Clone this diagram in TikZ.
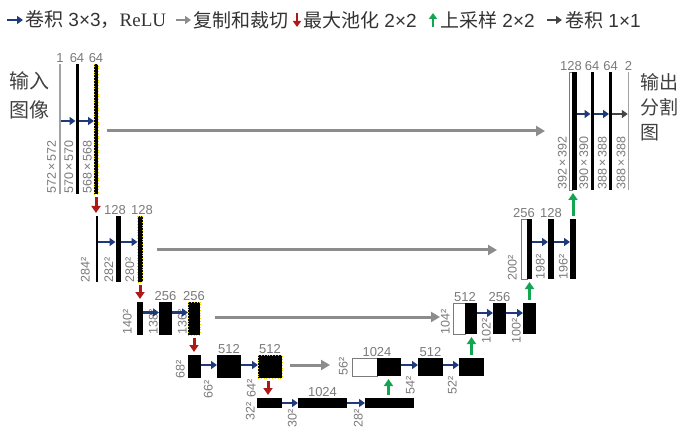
\documentclass[tikz,border=0pt]{standalone}
\usepackage{fontspec}
\setmainfont{Liberation Sans}
\newfontfamily\cjk{Noto Sans CJK SC}
\newfontfamily\tnr{Liberation Serif}
\usepackage{tikz}
\usetikzlibrary{arrows.meta,positioning,calc}
\definecolor{Navy}{HTML}{1F3A7A}
\definecolor{CopyGray}{HTML}{8C8C8C}
\definecolor{PoolRed}{HTML}{B01818}
\definecolor{UpGreen}{HTML}{12A650}
\definecolor{OutGray}{HTML}{454545}
\definecolor{LabelGray}{HTML}{7A7A7A}
\definecolor{DotYellow}{HTML}{E8D800}

\begin{document}
\begin{tikzpicture}[x=1pt,y=-1pt,
    bar/.style 2 args={fill=black,inner sep=0pt,outer sep=0pt,minimum width=#1,minimum height=#2},
    crop/.style={draw=DotYellow,dotted,line width=0.8pt},
    hollow/.style={fill=white,draw=LabelGray,line width=0.6pt},
    thin/.style={fill=LabelGray!70},
    convarrow/.style={-{Triangle[length=6pt,width=8pt]},line width=2.4pt,draw=Navy},
    outarrow/.style={convarrow,draw=OutGray},
    copyarrow/.style={-{Triangle[length=9pt,width=10pt]},line width=3pt,draw=CopyGray},
    poolarrow/.style={-{Triangle[length=7pt,width=9pt]},line width=3pt,draw=PoolRed,shorten <=3pt,shorten >=3pt},
    uparrow/.style={-{Triangle[length=7pt,width=9pt]},line width=3pt,draw=UpGreen,shorten <=3pt,shorten >=3pt},
    keyarrow/.style={line width=2.4pt,-{Triangle[length=6pt,width=8pt]}},
    dim/.style={font=\fontsize{12.5}{12.5}\selectfont,text=LabelGray,rotate=90,inner sep=0pt},
    chan/.style={font=\fontsize{13}{13}\selectfont,text=LabelGray,inner sep=1pt},
    key/.style={font=\fontsize{19}{19}\selectfont,text=black!80,inner sep=0pt,anchor=west},
    side/.style={font=\cjk\fontsize{20}{29}\selectfont,text=black!75,align=left,inner sep=0pt}
]
\useasboundingbox (0,0) rectangle (697,433);

% legend
\coordinate (k1s) at (7,20);
\coordinate (k1e) at (23,20);
\draw[keyarrow,draw=Navy] (k1s) -- (k1e);
\node[key] (k1) at (25,20) {{\cjk 卷积} 3×3{\cjk ，}{\tnr ReLU}};
\coordinate (k2s) at (176,20);
\coordinate (k2e) at (191,20);
\draw[keyarrow,draw=CopyGray] (k2s) -- (k2e);
\node[key] (k2) at (193,20) {\cjk 复制和裁切};
\coordinate (k3s) at (297,13);
\coordinate (k3e) at (297,27);
\draw[keyarrow,draw=PoolRed] (k3s) -- (k3e);
\node[key] (k3) at (303,20) {{\cjk 最大池化} 2×2};
\coordinate (k4s) at (433,27);
\coordinate (k4e) at (433,13);
\draw[keyarrow,draw=UpGreen] (k4s) -- (k4e);
\node[key] (k4) at (440,20) {{\cjk 上采样} 2×2};
\coordinate (k5s) at (547,20);
\coordinate (k5e) at (562,20);
\draw[keyarrow,draw=OutGray] (k5s) -- (k5e);
\node[key] (k5) at (565,20) {{\cjk 卷积} 1×1};

% side texts
\node[side,anchor=north west] (inp) at (9,71) {输入\\图像};
\node[side,anchor=north west,font=\cjk\fontsize{19}{25}\selectfont] (outp) at (640,73) {输出\\分割\\图};

% contracting path
\node[bar={1.4pt}{130pt},thin] (in1) at (60,129) {};
\node[bar={3pt}{130pt}] (c11) at (77,129) {};
\node[bar={4pt}{130pt},crop] (c12) at (96,129) {};
\node[bar={2pt}{66pt}] (c21) at (97,249) {};
\node[bar={5pt}{66pt}] (c22) at (118,249) {};
\node[bar={5pt}{66pt},crop] (c23) at (140,249) {};
\node[bar={6pt}{33pt}] (c31) at (140,318.5) {};
\node[bar={13pt}{33pt}] (c32) at (165.5,318.5) {};
\node[bar={12pt}{33pt},crop] (c33) at (194,318.5) {};
\node[bar={13pt}{23pt}] (c41) at (194.5,366.5) {};
\node[bar={24pt}{23pt}] (c42) at (229,366.5) {};
\node[bar={24pt}{23pt},crop] (c43) at (270,366.5) {};
\node[bar={25pt}{10pt}] (c51) at (269.5,403) {};
\node[bar={49pt}{10pt}] (c52) at (322.5,403) {};
\node[bar={49pt}{10pt}] (c53) at (389.5,403) {};

% expansive path
\node[bar={25pt}{18pt},hollow] (w4) at (364.5,367) {};
\node[bar={24pt}{18pt}] (u41) at (389,367) {};
\node[bar={25pt}{18pt}] (u42) at (430.5,367) {};
\node[bar={25pt}{18pt}] (u43) at (471.5,367) {};
\node[bar={12pt}{31pt},hollow] (w3) at (459,318.5) {};
\node[bar={12pt}{31pt}] (u31) at (471,318.5) {};
\node[bar={13pt}{31pt}] (u32) at (499.5,318.5) {};
\node[bar={13pt}{31pt}] (u33) at (529.5,318.5) {};
\node[bar={6pt}{60pt},hollow] (w2) at (524,249) {};
\node[bar={5pt}{60pt}] (u21) at (529.5,249) {};
\node[bar={6pt}{60pt}] (u22) at (551,249) {};
\node[bar={6pt}{60pt}] (u23) at (573,249) {};
\node[bar={3pt}{118pt},hollow] (w1) at (570.5,131) {};
\node[bar={5pt}{118pt}] (u11) at (574.5,131) {};
\node[bar={3pt}{118pt}] (u12) at (592,131) {};
\node[bar={3pt}{118pt}] (u13) at (610.5,131) {};
\node[bar={1.4pt}{118pt},thin] (out) at (628.5,131) {};

% channel counts
\node[chan,above=0pt of in1] (n11) {1};
\node[chan,above=0pt of c11] (n12) {64};
\node[chan,above=0pt of c12] (n13) {64};
\node[chan,above=0pt of c22,xshift=-3pt] (n21) {128};
\node[chan,above=0pt of c23,xshift=2pt] (n22) {128};
\node[chan,above=0pt of c32] (n31) {256};
\node[chan,above=0pt of c33] (n32) {256};
\node[chan,above=0pt of c42] (n41) {512};
\node[chan,above=0pt of c43] (n42) {512};
\node[chan,above=0pt of c52] (n51) {1024};
\node[chan,above=0pt of w4.north east] (m41) {1024};
\node[chan,above=0pt of u42] (m42) {512};
\node[chan,above=0pt of w3.north east] (m31) {512};
\node[chan,above=0pt of u32] (m32) {256};
\node[chan,above=0pt of w2.north east,xshift=-3pt] (m21) {256};
\node[chan,above=0pt of u22] (m22) {128};
\node[chan,above=0pt of w1.north east,xshift=-1pt] (m11) {128};
\node[chan,above=0pt of u12] (m12) {64};
\node[chan,above=0pt of u13] (m13) {64};
\node[chan,above=0pt of out] (m14) {2};

% feature map sizes
\node[dim,anchor=south west] (s11) at ($(in1.south west)+(-3,0)$) {572\,×\,572};
\node[dim,anchor=south west] (s12) at ($(c11.south west)+(-2,0)$) {570\,×\,570};
\node[dim,anchor=south west] (s13) at ($(c12.south west)+(-2,0)$) {568\,×\,568};
\node[dim,anchor=south west] (s21) at ($(c21.south west)+(-6,1)$) {284²};
\node[dim,anchor=south west] (s22) at ($(c22.south west)+(-2,1)$) {282²};
\node[dim,anchor=south west] (s23) at ($(c23.south west)+(-3,1)$) {280²};
\node[dim,anchor=south west] (s31) at ($(c31.south west)+(-5,0)$) {140²};
\node[dim,anchor=south west] (s32) at ($(c32.south west)+(-1,0)$) {138²};
\node[dim,anchor=south west] (s33) at ($(c33.south west)+(-1,0)$) {136²};
\node[dim,anchor=south west] (s41) at ($(c41.south west)+(-3,1)$) {68²};
\node[dim,anchor=south east] (s42) at ($(c42.south west)+(-4,2)$) {66²};
\node[dim,anchor=south east] (s43) at ($(c43.south west)+(-2,1)$) {64²};
\node[dim,anchor=south west] (s51) at ($(c51.south west)+(-2,13)$) {32²};
\node[dim,anchor=south east] (s52) at ($(c52.south west)+(-1,1)$) {30²};
\node[dim,anchor=south east] (s53) at ($(c53.south west)+(-2,1)$) {28²};
\node[dim,anchor=south west] (t41) at ($(w4.south west)+(-4,0)$) {56²};
\node[dim,anchor=south east] (t42) at ($(u42.south west)+(-3,0)$) {54²};
\node[dim,anchor=south east] (t43) at ($(u43.south west)+(-2,0)$) {52²};
\node[dim,anchor=south west] (t31) at ($(w3.south west)+(-3,1)$) {104²};
\node[dim,anchor=south] (t32) at ($(u32.south west)+(-2,-3)$) {102²};
\node[dim,anchor=south] (t33) at ($(u33.south west)+(-2,-3)$) {100²};
\node[dim,anchor=south west] (t21) at ($(w2.south west)+(-4,2)$) {200²};
\node[dim,anchor=south west] (t22) at ($(u22.south west)+(-3,1)$) {198²};
\node[dim,anchor=south west] (t23) at ($(u23.south west)+(-2,1)$) {196²};
\node[dim,anchor=south west] (t11) at ($(w1.south west)+(-2,0)$) {392\,×\,392};
\node[dim,anchor=south west] (t12) at ($(u12.south west)+(-2,0)$) {390\,×\,390};
\node[dim,anchor=south west] (t13) at ($(u13.south west)+(-2,0)$) {388\,×\,388};
\node[dim,anchor=south west] (t14) at ($(out.south west)+(-2,0)$) {388\,×\,388};

% 3x3 convolutions
\draw[convarrow] ([yshift=8pt]in1.east) -- ([yshift=8pt]c11.west);
\draw[convarrow] ([yshift=8pt]c11.east) -- ([yshift=8pt]c12.west);
\draw[convarrow] ([yshift=7pt]c21.east) -- ([yshift=7pt]c22.west);
\draw[convarrow] ([yshift=7pt]c22.east) -- ([yshift=7pt]c23.west);
\draw[convarrow] ([yshift=6pt]c31.east) -- ([yshift=6pt]c32.west);
\draw[convarrow] ([yshift=6pt]c32.east) -- ([yshift=6pt]c33.west);
\draw[convarrow] ([yshift=1.5pt]c41.east) -- ([yshift=1.5pt]c42.west);
\draw[convarrow] ([yshift=1.5pt]c42.east) -- ([yshift=1.5pt]c43.west);
\draw[convarrow] (c51.east) -- (c52.west);
\draw[convarrow] (c52.east) -- (c53.west);
\draw[convarrow] ([yshift=2pt]u41.east) -- ([yshift=2pt]u42.west);
\draw[convarrow] ([yshift=2pt]u42.east) -- ([yshift=2pt]u43.west);
\draw[convarrow] ([yshift=5.5pt]u31.east) -- ([yshift=5.5pt]u32.west);
\draw[convarrow] ([yshift=5.5pt]u32.east) -- ([yshift=5.5pt]u33.west);
\draw[convarrow] ([yshift=7pt]u21.east) -- ([yshift=7pt]u22.west);
\draw[convarrow] ([yshift=7pt]u22.east) -- ([yshift=7pt]u23.west);
\draw[convarrow] ([yshift=17pt]u11.east) -- ([yshift=17pt]u12.west);
\draw[convarrow] ([yshift=17pt]u12.east) -- ([yshift=17pt]u13.west);
\draw[outarrow] ([yshift=17pt]u13.east) -- ([yshift=17pt]out.west);

% copy and crop
\draw[copyarrow] ($(c12.east)+(9,2)$) -- ($(w1.west |- c12.east)+(-24,2)$);
\draw[copyarrow] ($(c23.east)+(14,1)$) -- ($(w2.west |- c23.east)+(-24,1)$);
\draw[copyarrow] ($(c33.east)+(15,-1.5)$) -- ($(w3.west |- c33.east)+(-13,-1.5)$);
\draw[copyarrow] ($(c43.east)+(8,-1.5)$) -- ($(w4.west |- c43.east)+(-22,-1.5)$);

% max pooling
\draw[poolarrow] (c12.south) -- (c12.south |- c21.north);
\draw[poolarrow] (c23.south) -- (c23.south |- c31.north);
\draw[poolarrow] (c33.south) -- (c33.south |- c41.north);
\draw[poolarrow] ([xshift=-2pt]c43.south) -- ([xshift=-2pt]c43.south |- c51.north);

% up-convolutions
\draw[uparrow] ([xshift=-1pt]c53.north) -- ([xshift=-1pt]c53.north |- u41.south);
\draw[uparrow] (u43.north) -- (u43.north |- u31.south);
\draw[uparrow] (u33.north) -- (u33.north |- u21.south);
\draw[uparrow] (u23.north) -- (u23.north |- u11.south);
\end{tikzpicture}
\end{document}
